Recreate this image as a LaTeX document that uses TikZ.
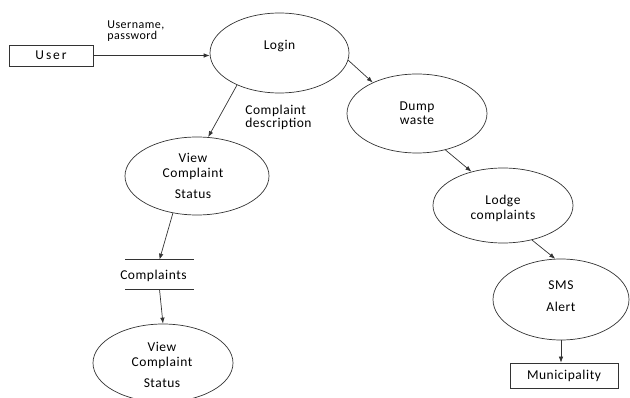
\documentclass[tikz,border=0pt]{standalone}
\usepackage{fontspec}
\setmainfont[LetterSpace=4]{Carlito}
\usetikzlibrary{shapes.geometric,arrows.meta}
\begin{document}
\begin{tikzpicture}[x=1pt,y=-1pt,
  every node/.style={font=\fontsize{13.5}{15}\selectfont, text=black},
  proc/.style={draw=black!80, ellipse, inner sep=0pt},
  ent/.style={draw=black!80, rectangle, inner sep=0pt},
  txt/.style={align=center, font=\fontsize{13.5}{15}\selectfont},
  flow/.style={draw=black!80, -{Latex[length=6pt,width=4.5pt]}},
  line width=0.7pt
]
\useasboundingbox (0,0) rectangle (630,398);

% entities
\node[ent, minimum width=84pt, minimum height=21pt] (user) at (51,55.5) {\addfontfeatures{LetterSpace=14}User};
\node[ent, minimum width=108pt, minimum height=25pt] (muni) at (564,375.5) {Municipality};

% processes
\node[proc, minimum width=139pt, minimum height=80pt,
  label={[txt, yshift=7pt]center:Login}] (login) at (279.5,53) {};
\node[proc, minimum width=144pt, minimum height=78pt,
  label={[txt, xshift=-4pt, yshift=0pt]center:{View\\Complaint\\[6pt]Status}}] (view1) at (197,176) {};
\node[proc, minimum width=140pt, minimum height=79pt,
  label={[txt, font=\fontsize{13.5}{14}\selectfont]center:{Dump\\waste}}] (dump) at (417,113.5) {};
\node[proc, minimum width=140pt, minimum height=75pt,
  label={[txt, yshift=-3pt]center:{Lodge\\complaints}}] (lodge) at (503,205.5) {};
\node[proc, minimum width=136pt, minimum height=81pt,
  label={[txt, yshift=3.5pt]center:{SMS\\[7pt]Alert}}] (sms) at (561,299.5) {};
\node[proc, minimum width=140pt, minimum height=78pt,
  label={[txt, xshift=-1pt, yshift=-1.5pt]center:{View\\Complaint\\[6pt]Status}}] (view2) at (163,363) {};

% data store
\node[minimum width=68pt, minimum height=29pt, inner sep=0pt,
  label={[txt, xshift=-6pt, yshift=-1.5pt]center:Complaints}] (store) at (159.5,274.5) {};
\draw[black!80] (store.north west) -- (store.north east);
\draw[black!80] (store.south west) -- (store.south east);

% flows
\draw[flow] (user.east) -- (user.east -| login.west);
\draw[flow] (login.-143) -- (view1.74);
\draw[flow] (login.-6) -- (dump.145);
\draw[flow] (view1.-123) -- (store.north);
\draw[flow] (store.south) -- (view2.north);
\draw[flow] (dump.-52) -- (lodge.133);
\draw[flow] (lodge.-50) -- (sms.98);
\draw[flow] (sms.south) -- (sms.south |- muni.north);

% flow labels
\node[anchor=west, align=left, inner sep=0pt, font=\fontsize{12}{11.5}\selectfont] (lblup) at (107,31) {Username,\\password};
\node[anchor=west, align=left, inner sep=0pt, font=\fontsize{13.5}{13}\selectfont] (lblcd) at (245,117) {Complaint\\description};
\end{tikzpicture}
\end{document}
